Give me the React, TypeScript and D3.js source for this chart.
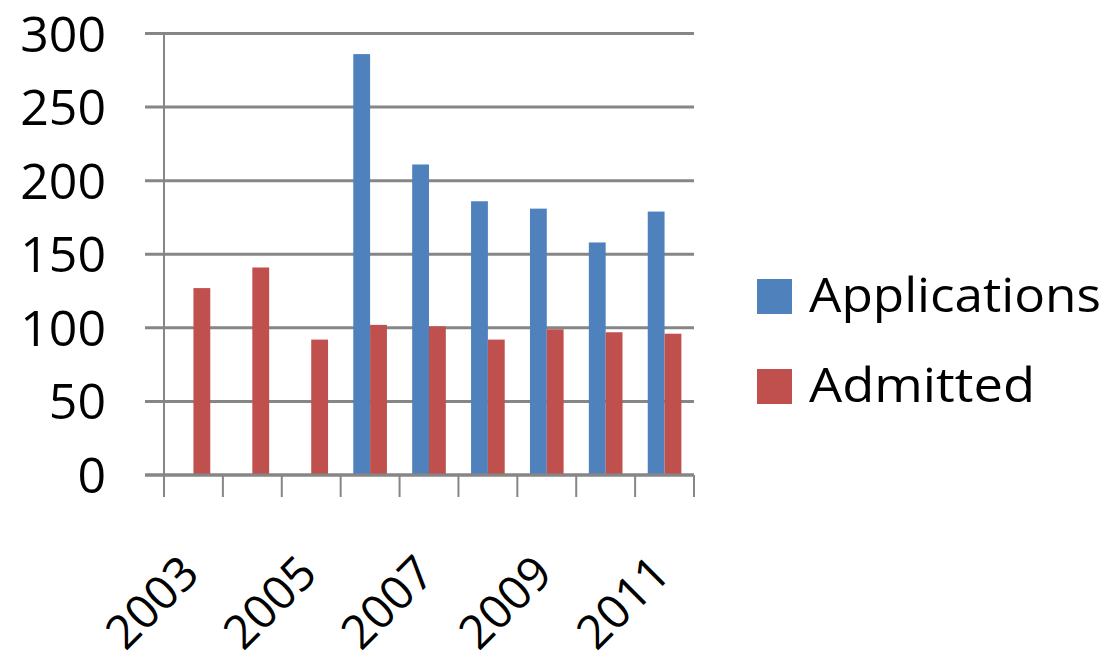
import React, { useEffect } from "react";
import * as d3 from "d3";

// Yearly series
const years = ["2003", "2004", "2005", "2006", "2007", "2008", "2009", "2010", "2011"];
const applications: (number | null)[] = [null, null, null, 286, 211, 186, 181, 158, 179];
const admitted: number[] = [127, 141, 92, 102, 101, 92, 99, 97, 96];
const yTicks = [0, 50, 100, 150, 200, 250, 300];
const labeledYears = ["2003", "2005", "2007", "2009", "2011"];

const seriesNames = ["Applications", "Admitted"];
const seriesColors = ["#4F81BD", "#C0504D"];

const W = 1120;
const H = 661;
const FONT = "'Open Sans', 'DejaVu Sans', sans-serif";

export default function App() {
  useEffect(() => {
    document.body.style.margin = "0";
  }, []);

  const x = d3.scaleBand<string>().domain(years).range([164, 694]).paddingInner(0).paddingOuter(0);
  const y = d3.scaleLinear().domain([0, 300]).range([475, 33.5]);

  const band = x.bandwidth();
  const barW = band / 3.5; // 150% gap width between clusters
  const groupOffset = (band - 2 * barW) / 2;

  const gridColor = "#868686";
  const [x0, x1] = x.range();

  return (
    <svg width={W} height={H} style={{ display: "block" }} fontFamily={FONT}>
      <rect width={W} height={H} fill="#fff" />

      {/* horizontal gridlines, extending left as tick marks */}
      {yTicks.map((t) => (
        <line key={"g" + t} x1={145} x2={x1} y1={y(t)} y2={y(t)} stroke={gridColor} strokeWidth={3} />
      ))}

      {/* value axis labels */}
      {yTicks.map((t) => (
        <text key={"yl" + t} x={106} y={y(t) + 18} textAnchor="end" fontSize={50} fill="#000">
          {t}
        </text>
      ))}

      {/* bars */}
      {years.map((yr, i) => {
        const bx = (x(yr) as number) + groupOffset;
        const a = applications[i];
        const b = admitted[i];
        return (
          <g key={"b" + yr}>
            {a != null && (
              <rect x={bx} y={y(a)} width={barW} height={y(0) - y(a)} fill={seriesColors[0]} />
            )}
            <rect x={bx + barW} y={y(b)} width={barW} height={y(0) - y(b)} fill={seriesColors[1]} />
          </g>
        );
      })}

      {/* vertical axis line */}
      <line x1={x0} x2={x0} y1={y(300) - 1} y2={497} stroke={gridColor} strokeWidth={2} />
      {/* baseline */}
      <line x1={145} x2={x1} y1={y(0)} y2={y(0)} stroke={gridColor} strokeWidth={3} />

      {/* category tick marks at band boundaries */}
      {years.concat(["end"]).map((yr, i) => {
        const tx = x0 + i * band;
        return <line key={"t" + i} x1={tx} x2={tx} y1={y(0)} y2={497} stroke={gridColor} strokeWidth={2} />;
      })}

      {/* rotated category labels */}
      {labeledYears.map((yr) => {
        const cx = (x(yr) as number) + band / 2 + 8;
        const cy = 576;
        return (
          <text
            key={"xl" + yr}
            x={cx}
            y={cy}
            textAnchor="end"
            fontSize={47}
            fill="#000"
            transform={`rotate(-45, ${cx}, ${cy})`}
          >
            {yr}
          </text>
        );
      })}

      {/* legend */}
      {seriesNames.map((name, i) => {
        const ly = 279 + i * 90;
        return (
          <g key={"lg" + name}>
            <rect x={757} y={ly} width={35} height={35} fill={seriesColors[i]} />
            <text
              x={809}
              y={ly + 33}
              fontSize={48}
              fill="#000"
              textLength={i === 0 ? 292 : 226}
              lengthAdjust="spacingAndGlyphs"
            >
              {name}
            </text>
          </g>
        );
      })}
    </svg>
  );
}
